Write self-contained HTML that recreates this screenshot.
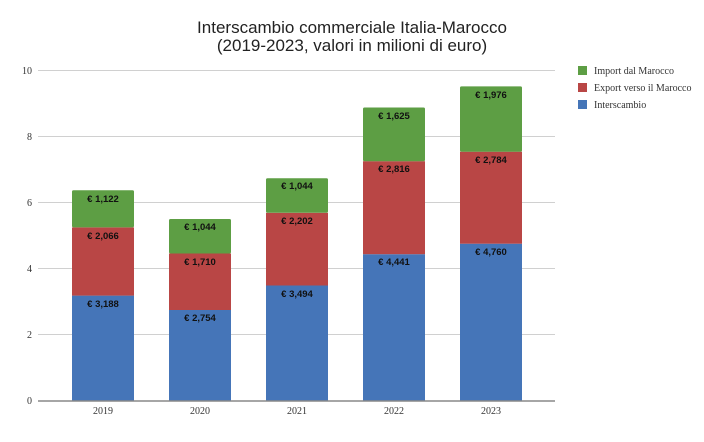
<!DOCTYPE html>
<html><head><meta charset="utf-8"><style>body{margin:0;background:#fff}</style></head><body>
<svg width="704" height="437" xmlns="http://www.w3.org/2000/svg">
<rect width="704" height="437" fill="#fff"/>
<text x="352" y="33" text-anchor="middle" font-family="Liberation Sans, sans-serif" font-size="17" fill="#222">Interscambio commerciale Italia-Marocco</text>
<text x="352" y="51" text-anchor="middle" font-family="Liberation Sans, sans-serif" font-size="17" fill="#222">(2019-2023, valori in milioni di euro)</text>
<g stroke="#d0d0d0" stroke-width="1">
<line x1="38" x2="555" y1="70.5" y2="70.5"/><line x1="38" x2="555" y1="136.5" y2="136.5"/><line x1="38" x2="555" y1="202.5" y2="202.5"/><line x1="38" x2="555" y1="268.5" y2="268.5"/><line x1="38" x2="555" y1="334.5" y2="334.5"/>
</g>
<g font-family="Liberation Serif, serif" font-size="10" fill="#333" text-anchor="end">
<text x="32" y="74">10</text><text x="32" y="140">8</text><text x="32" y="206">6</text><text x="32" y="272">4</text><text x="32" y="338">2</text><text x="32" y="404">0</text>
</g>
<g>
<rect x="72" y="295.6" width="62" height="105.4" fill="#4575b8"/>
<rect x="72" y="227.4" width="62" height="68.2" fill="#b94645"/>
<rect x="72" y="190.3" width="62" height="37.1" fill="#5d9e44" rx="1.5"/>
<rect x="169" y="310" width="62" height="91" fill="#4575b8"/>
<rect x="169" y="253.5" width="62" height="56.5" fill="#b94645"/>
<rect x="169" y="219" width="62" height="34.5" fill="#5d9e44" rx="1.5"/>
<rect x="266" y="285.5" width="62" height="115.5" fill="#4575b8"/>
<rect x="266" y="212.8" width="62" height="72.7" fill="#b94645"/>
<rect x="266" y="178.2" width="62" height="34.6" fill="#5d9e44" rx="1.5"/>
<rect x="363" y="254.2" width="62" height="146.8" fill="#4575b8"/>
<rect x="363" y="161.2" width="62" height="93" fill="#b94645"/>
<rect x="363" y="107.5" width="62" height="53.7" fill="#5d9e44" rx="1.5"/>
<rect x="460" y="243.7" width="62" height="157.3" fill="#4575b8"/>
<rect x="460" y="151.7" width="62" height="92" fill="#b94645"/>
<rect x="460" y="86.4" width="62" height="65.3" fill="#5d9e44" rx="1.5"/>
</g>
<g font-family="Liberation Sans, sans-serif" font-size="9.5" font-weight="bold" fill="#111" text-anchor="middle">
<text x="103" y="307">€ 3,188</text><text x="103" y="239">€ 2,066</text><text x="103" y="202">€ 1,122</text>
<text x="200" y="321">€ 2,754</text><text x="200" y="265">€ 1,710</text><text x="200" y="230">€ 1,044</text>
<text x="297" y="297">€ 3,494</text><text x="297" y="224">€ 2,202</text><text x="297" y="189">€ 1,044</text>
<text x="394" y="265">€ 4,441</text><text x="394" y="172">€ 2,816</text><text x="394" y="119">€ 1,625</text>
<text x="491" y="255">€ 4,760</text><text x="491" y="163">€ 2,784</text><text x="491" y="98">€ 1,976</text>
</g>
<line x1="38" x2="555" y1="401" y2="401" stroke="#888" stroke-width="1.5"/>
<g font-family="Liberation Serif, serif" font-size="10" fill="#333" text-anchor="middle">
<text x="103" y="414">2019</text><text x="200" y="414">2020</text><text x="297" y="414">2021</text><text x="394" y="414">2022</text><text x="491" y="414">2023</text>
</g>
<rect x="578" y="66" width="9" height="9" fill="#5d9e44"/>
<rect x="578" y="83" width="9" height="9" fill="#b94645"/>
<rect x="578" y="100" width="9" height="9" fill="#4575b8"/>
<g font-family="Liberation Serif, serif" font-size="10" fill="#333">
<text x="594" y="74">Import dal Marocco</text><text x="594" y="91">Export verso il Marocco</text><text x="594" y="108">Interscambio</text>
</g>
</svg>
</body></html>
